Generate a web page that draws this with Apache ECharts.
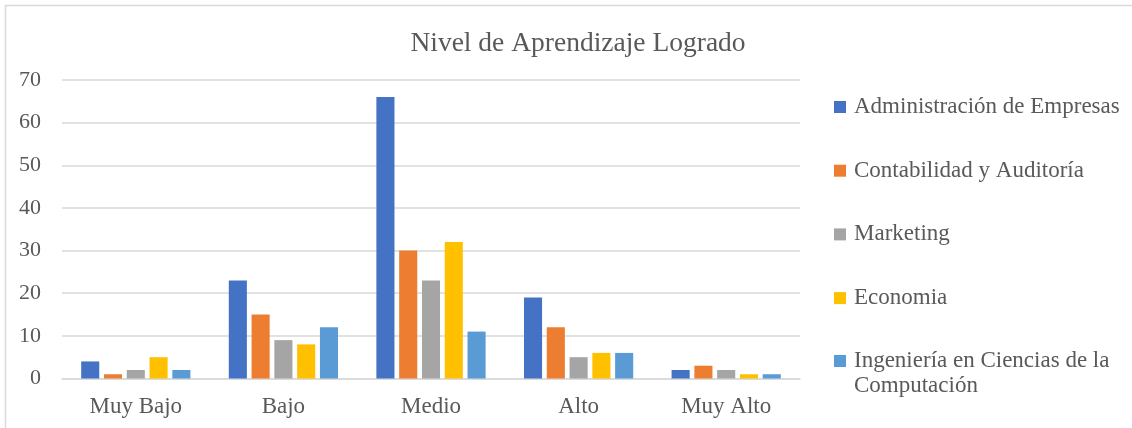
<!DOCTYPE html>
<html>
<head>
<meta charset="utf-8">
<title>Nivel de Aprendizaje Logrado</title>
<script src="https://cdn.jsdelivr.net/npm/echarts@6/dist/echarts.min.js"></script>
<style>
  html, body { margin: 0; padding: 0; background: #ffffff; }
  #chart { width: 1132px; height: 428px; }
</style>
</head>
<body>
<div id="chart"></div>
<script>
// Learning level reached, by degree programme
const categories = ['Muy Bajo', 'Bajo', 'Medio', 'Alto', 'Muy Alto'];
const administracion = [4, 23, 66, 19, 2];
const contabilidad = [1, 15, 30, 12, 3];
const marketing = [2, 9, 23, 5, 2];
const economia = [5, 8, 32, 6, 1];
const ingenieria = [2, 12, 11, 6, 1];
const yTicks = { min: 0, max: 70, interval: 10 };

const seriesNames = [
  'Administración de Empresas',
  'Contabilidad y Auditoría',
  'Marketing',
  'Economia',
  'Ingeniería en Ciencias de la\nComputación'
];
const seriesData = [administracion, contabilidad, marketing, economia, ingenieria];
const colors = ['#4472C4', '#ED7D31', '#A5A5A5', '#FFC000', '#5B9BD5'];

const font = '"Liberation Serif", "Times New Roman", serif';
const textColor = '#595959';
const gridColor = '#D9D9D9';

// Square legend marker with a little blank room to its right (wider text gap).
const squareIcon = 'path://M0,0H12V12H0Z M15,0L15,0';
// Same marker, sitting on the first line of a two-line label.
const squareIconTwoLines = 'path://M0,0H12V12H0Z M15,37L15,37';

const chart = echarts.init(document.getElementById('chart'), null, { renderer: 'canvas' });

chart.setOption({
  animation: false,
  color: colors,
  textStyle: { fontFamily: font, color: textColor },
  title: {
    text: 'Nivel de Aprendizaje Logrado',
    left: 573,
    top: 25,
    textAlign: 'center',
    textStyle: { fontFamily: font, fontSize: 27.5, fontWeight: 'normal', color: textColor }
  },
  graphic: [{
    type: 'rect',
    shape: { x: 5.5, y: 5.5, width: 1140, height: 440 },
    style: { fill: 'none', stroke: '#D9D9D9', lineWidth: 1.5 },
    silent: true
  }],
  legend: [{
    orient: 'vertical',
    left: 829,
    top: 89.5,
    itemWidth: 15,
    itemHeight: 12,
    itemGap: 38.7,
    icon: squareIcon,
    data: seriesNames.slice(0, 4),
    textStyle: { fontFamily: font, fontSize: 23, color: textColor, lineHeight: 25 }
  }, {
    orient: 'vertical',
    left: 829,
    top: 343.5,
    itemWidth: 15,
    itemHeight: 37,
    icon: squareIconTwoLines,
    data: seriesNames.slice(4),
    textStyle: { fontFamily: font, fontSize: 23, color: textColor, lineHeight: 25 }
  }],
  grid: { left: 62, right: 332, top: 80, bottom: 49.5, containLabel: false },
  xAxis: {
    type: 'category',
    data: categories,
    axisTick: { show: false },
    axisLine: { lineStyle: { color: gridColor, width: 1.5 } },
    axisLabel: { fontFamily: font, fontSize: 23, color: textColor, margin: 17 }
  },
  yAxis: {
    type: 'value',
    min: yTicks.min,
    max: yTicks.max,
    interval: yTicks.interval,
    axisLine: { show: false },
    axisTick: { show: false },
    splitLine: { lineStyle: { color: gridColor, width: 1.5 } },
    axisLabel: { fontFamily: font, fontSize: 22, color: textColor, margin: 21 }
  },
  series: seriesNames.map((name, i) => ({
    name: name,
    type: 'bar',
    data: seriesData[i],
    barGap: '26%',
    barCategoryGap: '26%',
    itemStyle: { color: colors[i] }
  }))
});
</script>
</body>
</html>
